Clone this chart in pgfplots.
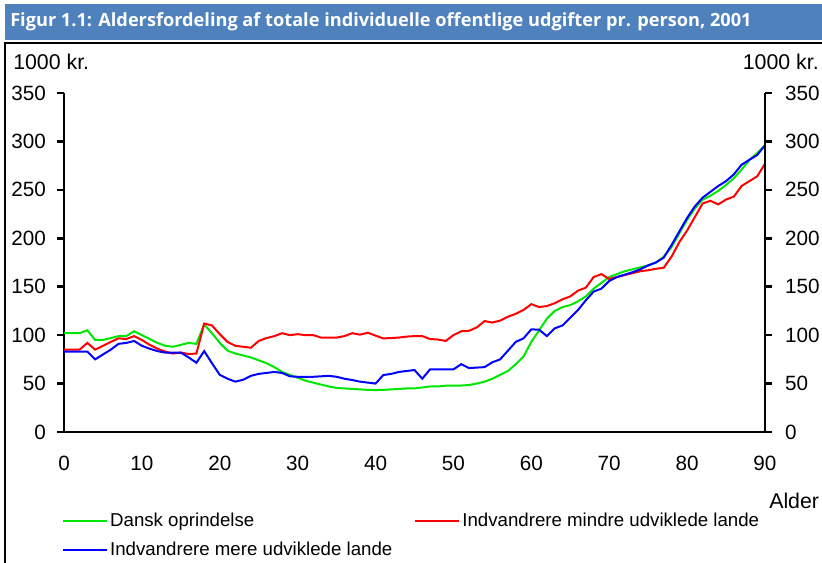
\documentclass[border=0pt]{standalone}
\usepackage{pgfplots}
\pgfplotsset{compat=1.18}
\usepackage{fontspec}
\setmainfont{Liberation Sans}
\newfontfamily\titlefont{Open Sans}
\definecolor{titleblue}{RGB}{79,129,189}
\definecolor{lgreen}{RGB}{0,230,0}
\definecolor{lred}{RGB}{255,0,0}
\definecolor{lblue}{RGB}{0,0,255}
\begin{document}
\begin{tikzpicture}
\path[use as bounding box] (0pt,0pt) rectangle (616.5pt,-422.25pt);
\begin{scope}[x=0.75pt,y=-0.75pt]
\fill[titleblue] (5,4) rectangle (822,40);
\node[anchor=west,text=white,inner sep=0pt] at (10,22) {\resizebox{556pt}{!}{\titlefont\bfseries Figur 1.1: Aldersfordeling af totale individuelle offentlige udgifter pr. person, 2001}};
\draw[black,line width=1.2pt] (5,563) -- (5,43) -- (822,43);
\node[anchor=west,inner sep=0pt,font=\fontsize{16}{18}\selectfont] at (13,62) {1000 kr.};
\node[anchor=east,inner sep=0pt,font=\fontsize{16}{18}\selectfont] at (819,62) {1000 kr.};
\node[anchor=west,inner sep=0pt,font=\fontsize{16}{18}\selectfont] at (769,501) {Alder};
\end{scope}
\begin{axis}[
  at={(48pt,-324pt)}, anchor=south west,
  scale only axis, width=525.75pt, height=254.25pt,
  xmin=0, xmax=90, ymin=0, ymax=350,
  axis x line*=bottom, axis y line*=left,
  axis line style={line width=1.9pt, -},
  xtick={0,10,...,90}, ytick={0,50,...,350},
  x tick style={draw=none},
  y tick style={line width=1.9pt, black},
  tick align=outside, major tick length=5.5pt,
  /pgf/number format/assume math mode=true,
  ticklabel style={font=\fontsize{15.5}{18}\selectfont},
  xticklabel style={yshift=-9pt},
  yticklabel style={xshift=-4.5pt},
  legend columns=2,
  legend cell align=left,
  legend style={draw=none, fill=none, at={(-0.003,-0.233)}, anchor=north west,
    inner sep=0pt, row sep=7pt, font=\fontsize{14}{16}\selectfont,
    /tikz/every even column/.append style={column sep=15pt},
    nodes={inner sep=1.5pt}},
  legend image code/.code={\draw[#1] (0pt,0pt) -- (33pt,0pt);},
  clip=false,
]
\addplot[lgreen, line width=1.5pt] coordinates {
(0,102)(1,102)(2,102)(3,105)(4,95)(5,95)(6,97)(7,99)(8,99)(9,104)(10,100)
(11,96)(12,92)(13,89)(14,88)(15,90)(16,92)(17,91)(18,111)(19,102)(20,92)
(21,84)(22,81)(23,79)(24,77)(25,74)(26,71)(27,67)(28,62)(29,59)(30,56)
(31,53)(32,51)(33,49)(34,47)(35,45.5)(36,45)(37,44.5)(38,44)(39,43.5)(40,43.3)
(41,43.5)(42,44)(43,44.4)(44,45)(45,45)(46,46)(47,47)(48,47)(49,47.8)(50,48)
(51,48)(52,48.5)(53,50)(54,52)(55,55)(56,59)(57,63)(58,70)(59,78)(60,93)
(61,105)(62,117)(63,125)(64,129)(65,131)(66,135)(67,140)(68,148)(69,154)(70,160)
(71,163)(72,166)(73,168)(74,170)(75,172)(76,175)(77,181)(78,191)(79,205)(80,219)
(81,231)(82,240)(83,244)(84,249)(85,255)(86,262)(87,271)(88,281)(89,288)(90,296)
};
\addlegendentry{Dansk oprindelse}
\addplot[lred, line width=1.5pt] coordinates {
(0,85)(1,85)(2,85)(3,92)(4,85)(5,89)(6,93)(7,96.7)(8,96)(9,99)(10,95)
(11,90)(12,86)(13,83)(14,81)(15,82)(16,80.5)(17,81)(18,112)(19,110)(20,101)
(21,93)(22,89)(23,88)(24,87)(25,94)(26,97)(27,99)(28,102)(29,100)(30,101)
(31,100)(32,100)(33,97.5)(34,97.5)(35,97.5)(36,99)(37,102)(38,100.5)(39,102.5)(40,99.5)
(41,96.6)(42,97)(43,97.5)(44,98.5)(45,99)(46,99)(47,96)(48,95.5)(49,94)(50,100)
(51,104)(52,104.5)(53,108)(54,114.5)(55,113)(56,115)(57,119)(58,122)(59,126)(60,132)
(61,129)(62,130)(63,133)(64,137)(65,140)(66,146)(67,149)(68,160)(69,163)(70,158)
(71,160)(72,162)(73,164)(74,166)(75,167)(76,168.5)(77,169.6)(78,181)(79,196)(80,208)
(81,222)(82,236)(83,238.7)(84,235)(85,240)(86,243)(87,254)(88,259)(89,264)(90,277)
};
\addlegendentry{Indvandrere mindre udviklede lande}
\addplot[lblue, line width=1.5pt] coordinates {
(0,83)(1,83)(2,83)(3,83)(4,75)(5,80)(6,85)(7,91)(8,92)(9,94)(10,89)
(11,86)(12,83.5)(13,82)(14,82)(15,82)(16,77)(17,71.5)(18,83.5)(19,71)(20,59)
(21,55)(22,52)(23,54)(24,58)(25,60)(26,61)(27,62)(28,61)(29,57.5)(30,57)
(31,57)(32,57)(33,57.5)(34,58)(35,57)(36,55)(37,53.7)(38,52)(39,51)(40,50)
(41,58.8)(42,60)(43,62)(44,63)(45,64)(46,55)(47,64.7)(48,64.7)(49,64.7)(50,64.7)
(51,70)(52,66)(53,66.5)(54,67)(55,72)(56,75)(57,84)(58,93)(59,96.7)(60,106)
(61,105.6)(62,99)(63,107)(64,110)(65,118)(66,126)(67,136)(68,145)(69,148)(70,156)
(71,160)(72,162.5)(73,165)(74,168)(75,172)(76,175)(77,180)(78,193)(79,207)(80,221)
(81,233)(82,242)(83,248)(84,254)(85,259)(86,266)(87,276)(88,281)(89,286)(90,296)
};
\addlegendentry{Indvandrere mere udviklede lande}
\end{axis}
\begin{axis}[
  at={(48pt,-324pt)}, anchor=south west,
  scale only axis, width=525.75pt, height=254.25pt,
  xmin=0, xmax=90, ymin=0, ymax=350,
  axis x line=none, axis y line*=right,
  axis line style={line width=1.9pt, -},
  ytick={0,50,...,350},
  y tick style={line width=1.9pt, black},
  tick align=outside, major tick length=5.5pt,
  /pgf/number format/assume math mode=true,
  ticklabel style={font=\fontsize{15.5}{18}\selectfont},
  yticklabel style={xshift=6pt},
]
\addplot[draw=none] coordinates {(0,0)};
\end{axis}
\end{tikzpicture}
\end{document}
